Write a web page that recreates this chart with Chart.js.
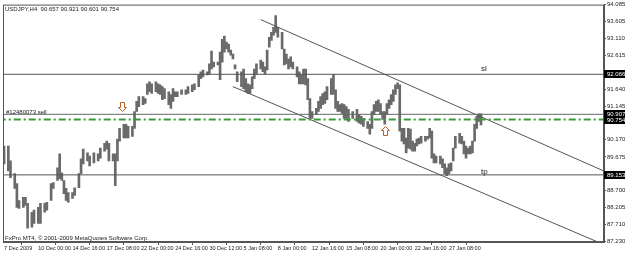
<!DOCTYPE html>
<html>
<head>
<meta charset="utf-8">
<script src="https://cdn.jsdelivr.net/npm/chart.js@4.4.1/dist/chart.umd.min.js"></script>
<style>
  html, body { margin: 0; padding: 0; background: #fff; }
  #wrap { width: 625px; height: 253px; position: relative; }
</style>
</head>
<body>
<div id="wrap"><canvas id="chart"></canvas></div>
<script>
const symbolTitle = 'USDJPY,H4  90.657 90.921 90.601 90.754';
const copyright = 'FxPro MT4, \u00a9 2001-2009 MetaQuotes Software Corp.';

// H4 bar number (counted from the first bar on screen) of each bar
const barNo = [
  0,2,3,5,6,7,9,10,11,13,14,16,17,19,20,22,23,25,26,27,28,29,30,32,33,35,36,37,39,40,42,44,45,47,48,49,51,52,53,54,56,
  57,58,60,61,62,63,65,66,67,68,69,71,72,73,74,75,77,78,79,80,81,83,85,86,88,89,91,92,93,95,96,97,98,100,101,102,103,104,105,106,107,108,109,111,
  112,113,114,115,116,117,118,120,121,122,123,124,125,126,127,128,130,131,132,133,134,135,137,138,139,140,141,142,143,144,146,147,148,149,150,151,153,154,155,156,157,158,159,160,161,163,165,
  166,167,168,170,171,172,173,174,175,176,177,178,179,180,181,182,183,184,185,186,187,188,189,190,191,192,193,194,195,197,198,199,200,201,202,204,205,206,207,208,209,210,211,213,214,215,216,217,218,219,220,221,222,223
];
const highs = [
  89.99,89.99,89.56,89.19,88.90,88.41,88.50,88.50,88.33,88.07,
  88.13,88.21,88.33,88.33,88.36,88.90,88.93,89.36,89.76,89.21,
  88.99,88.76,88.64,88.64,88.78,89.19,89.62,89.90,89.79,89.70,
  89.79,89.76,89.93,90.07,90.13,90.07,89.76,89.76,90.19,90.50,90.62,
  90.62,90.56,90.56,90.99,91.28,91.42,91.42,91.36,91.79,91.85,
  91.79,91.85,91.79,91.76,91.71,91.65,91.56,91.48,91.65,91.56,
  91.56,91.62,91.62,91.71,91.76,91.79,92.05,92.14,92.19,92.14,
  92.37,92.74,92.42,92.42,92.71,93.08,93.17,93.00,92.94,92.77,92.65,92.34,92.14,92.14,
  92.22,91.94,91.79,91.76,91.99,92.22,92.37,92.48,92.42,92.28,
  92.77,93.14,93.28,93.43,93.77,93.43,93.28,92.80,92.65,92.51,
  92.57,92.42,92.28,92.14,92.05,92.22,92.22,91.94,91.36,90.99,
  91.08,91.28,91.42,91.51,91.56,91.71,91.94,92.05,91.62,91.28,
  91.19,91.22,91.19,91.13,91.05,90.99,91.05,
  90.90,90.85,90.79,90.70,90.62,90.99,91.19,91.28,91.33,91.22,
  90.99,90.99,91.22,91.33,91.48,91.62,91.76,91.82,91.76,90.50,
  90.50,90.22,90.50,90.48,90.13,90.07,90.19,90.22,90.27,90.27,
  90.27,90.50,90.42,89.76,89.70,89.70,89.62,89.47,89.36,89.47,
  89.50,89.93,90.27,90.36,90.27,90.13,89.99,89.93,89.99,90.13,
  90.62,90.85,90.92,90.92
];
const lows = [
  89.47,89.27,89.07,88.76,88.21,88.18,88.21,88.27,87.61,87.64,
  87.75,87.75,87.75,88.07,88.13,88.41,88.76,88.99,89.04,88.99,
  88.61,88.41,88.36,88.47,88.56,88.78,89.19,89.47,89.56,89.41,
  89.50,89.56,89.64,89.84,89.90,89.56,89.56,88.84,89.56,90.13,90.22,
  90.22,90.22,90.27,90.50,90.99,91.13,91.19,91.22,91.48,91.56,
  91.51,91.56,91.51,91.48,91.33,91.36,91.19,91.08,91.28,91.42,
  91.42,91.48,91.48,91.51,91.56,91.62,91.71,91.94,91.99,92.05,
  92.08,92.22,92.28,92.34,91.91,92.42,92.71,92.80,92.71,92.62,92.51,92.22,91.85,91.71,
  91.65,91.56,91.51,91.51,91.65,91.94,92.08,92.22,92.14,92.08,
  92.19,92.85,93.05,93.20,93.28,93.14,92.80,92.34,92.37,92.22,
  92.28,92.22,91.99,91.79,91.79,91.79,91.76,91.33,90.79,90.79,
  90.90,90.99,91.08,91.19,91.22,91.33,91.48,91.48,91.08,90.99,
  90.99,90.93,90.79,90.79,90.70,90.79,90.70,
  90.65,90.62,90.56,90.50,90.33,90.50,90.90,90.99,90.99,90.90,
  90.76,90.62,90.90,91.08,91.19,91.28,91.48,91.65,90.42,90.13,
  90.05,89.79,89.93,89.90,89.84,89.84,89.99,90.05,90.07,90.13,
  90.19,90.22,89.64,89.50,89.50,89.47,89.36,89.19,89.13,89.19,
  89.27,89.56,89.93,90.07,90.05,89.76,89.64,89.76,89.76,89.79,
  90.13,90.50,90.70,90.60
];

const dateTickBars = [0,16,32,48,64,80,96,112,128,144,160,176,192,208];
const dateTickLabels = ['7 Dec 2009','10 Dec 00:00','14 Dec 16:00','17 Dec 08:00','22 Dec 00:00','24 Dec 16:00',
  '30 Dec 12:00','5 Jan 08:00','8 Jan 00:00','12 Jan 16:00','15 Jan 08:00','20 Jan 00:00','22 Jan 16:00','27 Jan 08:00'];

const priceTicks = [94.085, 93.605, 93.110, 92.615, 91.640, 91.145, 90.170, 89.675, 88.700, 88.205, 87.710, 87.230];
const markedPrices = [92.066, 90.907, 90.754, 89.153];

const slPrice = 92.066;
const orderPrice = 90.907;
const bidPrice = 90.754;
const tpPrice = 89.153;
const orderLabel = '#12480073 sell';

// trend channel: [bar, price] end points
const channelUpper = [[120, 93.65], [281, 89.25]];
const channelLower = [[107, 91.71], [281, 87.12]];

// arrow objects: bar, price at the tip
const arrowMarks = [
  { bar: 55, price: 91.00, dir: 'down' },
  { bar: 178, price: 90.56, dir: 'up' }
];

const FONT = '"Liberation Sans", Arial, sans-serif';
const X_MIN = -0.5, X_MAX = 280.5;

function hLine(price, color, width, dash) {
  return {
    type: 'line',
    data: [{ x: X_MIN - 2, y: price }, { x: X_MAX + 2, y: price }],
    borderColor: color, borderWidth: width, borderDash: dash || [],
    pointRadius: 0, order: 0
  };
}
function segLine(pts, color) {
  return {
    type: 'line',
    data: pts.map(p => ({ x: p[0], y: p[1] })),
    borderColor: color, borderWidth: 1, pointRadius: 0, order: 0
  };
}

const overlay = {
  id: 'overlay',
  afterDatasetsDraw(chart) {
    const { ctx, chartArea: a, scales: { x, y } } = chart;
    ctx.save();
    // frame
    ctx.strokeStyle = '#555';
    ctx.lineWidth = 1;
    ctx.strokeRect(a.left + 0.5, a.top + 0.5, a.right - a.left - 1, a.bottom - a.top - 1);

    ctx.fillStyle = '#222';
    ctx.font = '6px ' + FONT;
    ctx.textBaseline = 'top';
    ctx.textAlign = 'left';
    ctx.fillText(symbolTitle, a.left + 2, a.top + 2);
    ctx.textBaseline = 'bottom';
    ctx.fillText(copyright, a.left + 2, a.bottom - 1);
    ctx.fillText(orderLabel, a.left + 3, y.getPixelForValue(orderPrice) + 1);
    ctx.font = '8px ' + FONT;
    ctx.fillText('sl', x.getPixelForValue(223), y.getPixelForValue(slPrice) - 2);
    ctx.fillText('tp', x.getPixelForValue(223), y.getPixelForValue(tpPrice) + 1);

    // arrows
    ctx.strokeStyle = '#b8602a';
    ctx.fillStyle = '#fff';
    arrowMarks.forEach(m => {
      const px = Math.round(x.getPixelForValue(m.bar)) + 0.5;
      const py = Math.round(y.getPixelForValue(m.price)) + 0.5;
      const s = m.dir === 'down' ? -1 : 1;
      ctx.beginPath();
      ctx.moveTo(px, py);
      ctx.lineTo(px + 4, py + s * 4);
      ctx.lineTo(px + 2, py + s * 4);
      ctx.lineTo(px + 2, py + s * 9);
      ctx.lineTo(px - 2, py + s * 9);
      ctx.lineTo(px - 2, py + s * 4);
      ctx.lineTo(px - 4, py + s * 4);
      ctx.closePath();
      ctx.fill();
      ctx.stroke();
    });
    ctx.restore();
  },
  afterDraw(chart) {
    const { ctx, chartArea: a, scales: { y } } = chart;
    ctx.save();
    ctx.font = '6px ' + FONT;
    ctx.textBaseline = 'middle';
    ctx.textAlign = 'left';
    markedPrices.forEach(p => {
      const py = Math.round(y.getPixelForValue(p));
      ctx.fillStyle = '#000';
      ctx.fillRect(a.right, py - 4, chart.width - a.right, 8);
      ctx.fillStyle = '#fff';
      ctx.fillText(p.toFixed(3), a.right + 3, py);
    });
    ctx.restore();
  }
};

new Chart(document.getElementById('chart'), {
  type: 'bar',
  data: {
    datasets: [
      hLine(slPrice, '#555', 1),
      hLine(orderPrice, '#666', 1),
      hLine(tpPrice, '#555', 1),
      hLine(bidPrice, '#3a9a3a', 2, [7, 3, 2, 3]),
      segLine(channelUpper, '#555'),
      segLine(channelLower, '#555'),
      {
        type: 'bar',
        data: barNo.map((b, i) => ({ x: b, y: [lows[i], highs[i]] })),
        backgroundColor: '#6a6a6a',
        borderWidth: 0,
        barThickness: 2,
        order: 1
      }
    ]
  },
  options: {
    responsive: true,
    maintainAspectRatio: false,
    animation: false,
    layout: { padding: { left: 3, top: 2, right: 0, bottom: 0 } },
    plugins: { legend: { display: false }, tooltip: { enabled: false } },
    scales: {
      x: {
        type: 'linear',
        offset: false,
        min: X_MIN,
        max: X_MAX,
        grid: { drawOnChartArea: false, drawTicks: true, tickLength: 3, color: '#555' },
        border: { display: true, color: '#555' },
        afterBuildTicks: s => { s.ticks = dateTickBars.map(v => ({ value: v })); },
        afterFit: s => { s.height = 11; },
        ticks: {
          autoSkip: false, maxRotation: 0, align: 'start', padding: 0,
          color: '#222', font: { size: 5.5, family: FONT },
          callback: v => dateTickLabels[dateTickBars.indexOf(v)] || ''
        }
      },
      y: {
        position: 'right',
        min: 87.209,
        max: 94.085,
        beginAtZero: false,
        grid: { drawOnChartArea: false, drawTicks: true, tickLength: 2, color: '#555' },
        border: { display: true, color: '#555' },
        afterBuildTicks: s => { s.ticks = priceTicks.map(v => ({ value: v })); },
        afterFit: s => { s.width = 21; },
        ticks: {
          padding: 1, color: '#222', font: { size: 6, family: FONT },
          callback: v => Number(v).toFixed(3)
        }
      }
    }
  },
  plugins: [overlay]
});
</script>
</body>
</html>
